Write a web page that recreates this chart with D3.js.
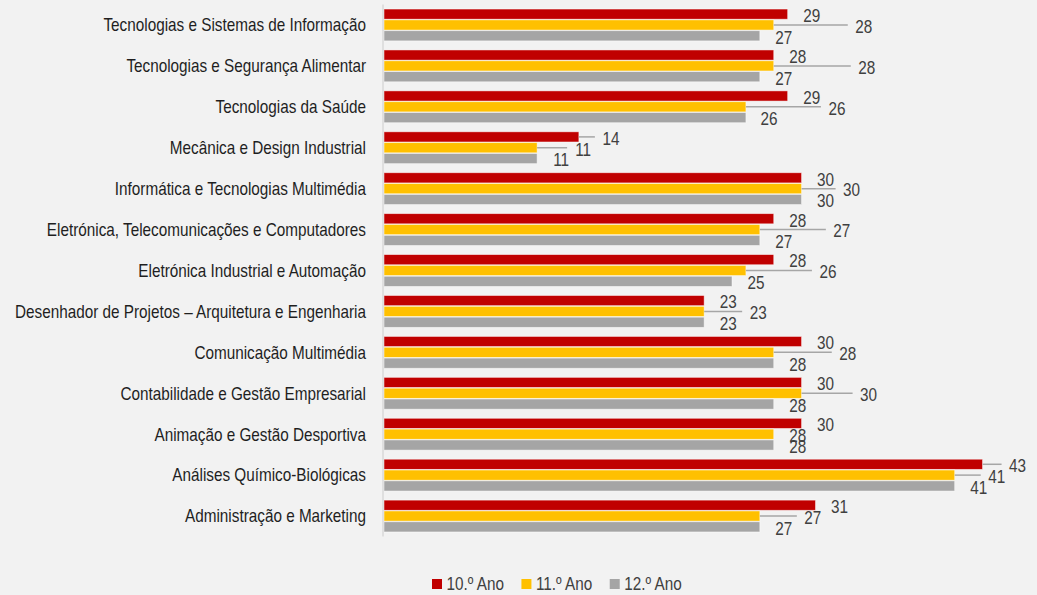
<!DOCTYPE html>
<html>
<head>
<meta charset="utf-8">
<script src="https://cdn.jsdelivr.net/npm/d3@7"></script>
<style>
    body { margin: 0; background: #f2f2f2; }
    svg { display: block; }
    text { font-family: "Liberation Sans", Arial, sans-serif; }
</style>
</head>
<body>
<div id="chart"></div>
<script>
const categories = [
    "Tecnologias e Sistemas de Informação",
    "Tecnologias e Segurança Alimentar",
    "Tecnologias da Saúde",
    "Mecânica e Design Industrial",
    "Informática e Tecnologias Multimédia",
    "Eletrónica, Telecomunicações e Computadores",
    "Eletrónica Industrial e Automação",
    "Desenhador de Projetos – Arquitetura e Engenharia",
    "Comunicação Multimédia",
    "Contabilidade e Gestão Empresarial",
    "Animação e Gestão Desportiva",
    "Análises Químico-Biológicas",
    "Administração e Marketing"
];

const seriesNames = ["10.º Ano", "11.º Ano", "12.º Ano"];

const ano10 = [29, 28, 29, 14, 30, 28, 28, 23, 30, 30, 30, 43, 31];
const ano11 = [28, 28, 26, 11, 30, 27, 26, 23, 28, 30, 28, 41, 27];
const ano12 = [27, 27, 26, 11, 30, 27, 25, 23, 28, 28, 28, 41, 27];

// label placement (px from bar end to label centre), as the labels sit in the original
const labelDx10 = [24, 24, 24, 32, 24, 24, 24, 24, 24, 24, 24, 35, 24];
const labelDx11 = [90, 93, 91, 46, 50, 82, 82, 54, 74, 67, 24, 42, 53];
const labelDx12 = [24, 24, 23, 24, 24, 24, 24, 24, 24, 24, 24, 24, 24];

const colors = ["#c00000", "#ffc000", "#a5a5a5"];

const width = 1037;
const height = 595;
const squeeze = 0.85; // narrow face, no Arial Narrow here

const svg = d3.select("#chart").append("svg")
    .attr("width", width)
    .attr("height", height);

svg.append("rect")
    .attr("width", width)
    .attr("height", height)
    .attr("fill", "#f2f2f2");

const x = d3.scaleLinear()
    .domain([0, 50])
    .range([384, 1080]);

const y = d3.scaleBand()
    .domain(categories)
    .range([4.5, 536.5])
    .paddingInner(0.19)
    .paddingOuter(0.095);

const ySub = d3.scaleBand()
    .domain(seriesNames)
    .range([0, y.bandwidth()])
    .padding(0.06);

const series = [ano10, ano11, ano12];
const dxs = [labelDx10, labelDx11, labelDx12];

const recs = [];
categories.forEach((cat, i) => {
    seriesNames.forEach((s, j) => {
        recs.push({ cat: cat, series: s, idx: j, value: series[j][i], dx: dxs[j][i] });
    });
});

function barMid(d) {
    return y(d.cat) + ySub(d.series) + ySub.bandwidth() / 2;
}

// category labels
svg.selectAll(".cat-label").data(categories).enter().append("text")
    .classed("cat-label", true)
    .attr("transform", d => `translate(366,${y(d) + y.bandwidth() / 2}) scale(${squeeze},1)`)
    .attr("dy", "0.35em")
    .attr("text-anchor", "end")
    .attr("font-size", 18)
    .attr("fill", "#1f1f1f")
    .text(d => d);

// bars
svg.selectAll(".bar").data(recs).enter().append("rect")
    .classed("bar", true)
    .attr("x", x(0))
    .attr("y", d => y(d.cat) + ySub(d.series))
    .attr("width", d => x(d.value) - x(0))
    .attr("height", ySub.bandwidth())
    .attr("fill", d => colors[d.idx])
    .attr("stroke", "#ffffff")
    .attr("stroke-opacity", 0.6)
    .attr("stroke-width", 0.8);

// axis line
svg.append("line")
    .attr("x1", x(0) - 1)
    .attr("x2", x(0) - 1)
    .attr("y1", y.range()[0])
    .attr("y2", y.range()[1])
    .attr("stroke", "#d9d9d9")
    .attr("stroke-width", 1.5);

// leader lines for labels pushed out of place
svg.selectAll(".leader").data(recs.filter(d => d.dx > 30)).enter().append("line")
    .classed("leader", true)
    .attr("x1", d => x(d.value))
    .attr("x2", d => x(d.value) + d.dx - 16)
    .attr("y1", barMid)
    .attr("y2", barMid)
    .attr("stroke", "#a6a6a6")
    .attr("stroke-width", 1.5);

// value labels
svg.selectAll(".value-label").data(recs).enter().append("text")
    .classed("value-label", true)
    .attr("transform", d => `translate(${x(d.value) + d.dx},${barMid(d) + 1.5}) scale(${squeeze},1)`)
    .attr("dy", "0.35em")
    .attr("text-anchor", "middle")
    .attr("font-size", 18)
    .attr("fill", "#404040")
    .text(d => d.value);

// legend
const legend = svg.append("g")
    .attr("transform", "translate(432,584)");

let lx = 0;
seriesNames.forEach((name, i) => {
    legend.append("rect")
        .attr("x", lx)
        .attr("y", -5)
        .attr("width", 10)
        .attr("height", 10)
        .attr("fill", colors[i]);
    const t = legend.append("text")
        .attr("transform", `translate(${lx + 14.5},0) scale(${squeeze},1)`)
        .attr("dy", "0.35em")
        .attr("font-size", 18)
        .attr("fill", "#404040")
        .text(name);
    lx += 14.5 + t.node().getComputedTextLength() * squeeze + 17.5;
});
</script>
</body>
</html>
